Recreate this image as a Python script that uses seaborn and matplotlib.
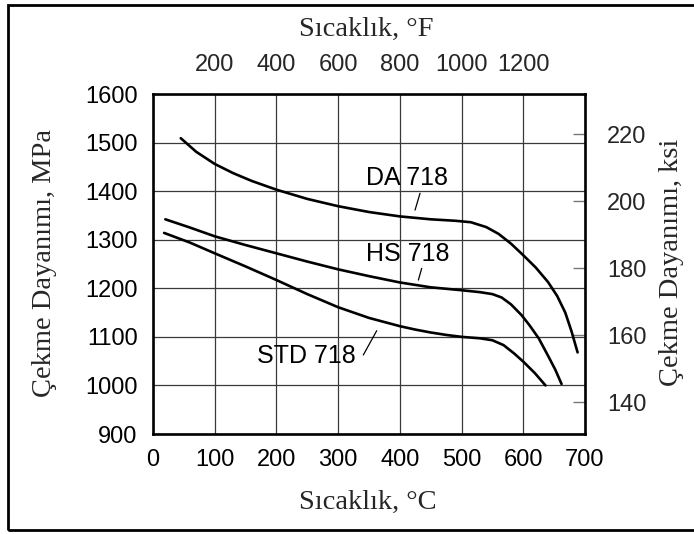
import numpy as np
import pandas as pd
import matplotlib
matplotlib.use("Agg")
import matplotlib.pyplot as plt
import matplotlib.patches as mpatches
import seaborn as sns

# ---- data ----
temp_da = [45, 70, 100, 130, 160, 200, 250, 300, 350, 400, 450, 490, 515, 540, 560, 580,
           600, 620, 640, 655, 668, 678, 688]
ts_da = [1509, 1481, 1456, 1437, 1421, 1403, 1384, 1369, 1357, 1348, 1342, 1339, 1336, 1326,
         1312, 1292, 1268, 1243, 1213, 1184, 1150, 1112, 1068]

temp_hs = [20, 60, 100, 150, 200, 250, 300, 350, 400, 450, 500, 530, 550, 565, 580, 597,
           610, 625, 641, 652, 662]
ts_hs = [1342, 1325, 1307, 1289, 1272, 1255, 1239, 1225, 1212, 1202, 1196, 1192, 1188, 1181,
         1167, 1145, 1124, 1097, 1059, 1032, 1003]

temp_std = [18, 60, 100, 150, 200, 250, 300, 350, 400, 425, 450, 475, 500, 530, 550, 568,
            585, 600, 619, 636]
ts_std = [1314, 1294, 1272, 1245, 1217, 1188, 1161, 1139, 1122, 1115, 1109, 1104, 1100, 1097,
          1093, 1083, 1066, 1049, 1025, 1000]

alloys = ["DA 718", "HS 718", "STD 718"]

x_ticks_c = [0, 100, 200, 300, 400, 500, 600, 700]
y_ticks_mpa = [900, 1000, 1100, 1200, 1300, 1400, 1500, 1600]
top_tick_pos_c = [100, 200, 300, 400, 500, 600]
top_tick_labels_f = ["200", "400", "600", "800", "1000", "1200"]
right_ticks_ksi = [140, 160, 180, 200, 220]
MPA_PER_KSI = 6.895

# label anchor points (data coords): text centre, leader start, leader end
label_pos = {
    "DA 718": ((411, 1427), (432.7, 1395.6), (424.6, 1361)),
    "HS 718": ((413, 1271), (435.4, 1241), (430, 1217)),
    "STD 718": ((248, 1061), (362.5, 1112.7), (340.8, 1062.7)),
}

df = pd.concat([
    pd.DataFrame({"temp": temp_da, "ts": ts_da, "alloy": alloys[0]}),
    pd.DataFrame({"temp": temp_hs, "ts": ts_hs, "alloy": alloys[1]}),
    pd.DataFrame({"temp": temp_std, "ts": ts_std, "alloy": alloys[2]}),
], ignore_index=True)

sns.set_theme(style="white")
plt.rcParams["font.family"] = ["Liberation Sans", "DejaVu Sans"]

W, H = 694, 534
fig = plt.figure(figsize=(W / 100, H / 100), dpi=100)
fig.patch.set_facecolor("white")
ax = fig.add_axes([153 / W, 1 - 434 / H, (585 - 153) / W, (434 - 94) / H])

sns.lineplot(data=df, x="temp", y="ts", hue="alloy", units="alloy", estimator=None,
             palette={a: "black" for a in alloys}, sort=False, legend=False,
             linewidth=1.9, solid_joinstyle="round", solid_capstyle="round", ax=ax)

ax.set_xlim(0, 700)
ax.set_ylim(900, 1600)
ax.set_xticks(x_ticks_c)
ax.set_yticks(y_ticks_mpa)
ax.set_xticklabels([str(v) for v in x_ticks_c])
ax.set_yticklabels([str(v) for v in y_ticks_mpa])
ax.tick_params(axis="both", which="both", length=0, labelsize=17, colors="black")
ax.tick_params(axis="x", pad=11)
ax.tick_params(axis="y", pad=11)
ax.grid(True, color="#3a3a3a", linewidth=0.9)
for s in ax.spines.values():
    s.set_color("black")
    s.set_linewidth(1.9)
ax.set_xlabel("")
ax.set_ylabel("")

# top Fahrenheit axis
top = ax.secondary_xaxis("top")
top.set_xticks(top_tick_pos_c)
top.set_xticklabels(top_tick_labels_f)
top.tick_params(length=0, labelsize=17, pad=13)
top.spines["top"].set_visible(False)

# right ksi axis
right = ax.secondary_yaxis("right", functions=(lambda m: m / MPA_PER_KSI, lambda k: k * MPA_PER_KSI))
right.set_yticks(right_ticks_ksi)
right.set_yticklabels([str(v) for v in right_ticks_ksi])
right.tick_params(direction="in", length=9, width=1.0, color="#777777", labelsize=17, pad=16)
right.spines["right"].set_visible(False)

# curve labels with leader lines
for name, (txt, p0, p1) in label_pos.items():
    ax.text(txt[0], txt[1], name, ha="center", va="center", fontsize=18, color="black")
    ax.plot([p0[0], p1[0]], [p0[1], p1[1]], color="black", linewidth=0.9)

serif = ["Liberation Serif", "DejaVu Serif"]
fig.text(366 / W, 1 - 29 / H, "Sıcaklık, °F", ha="center", va="center", fontsize=20.5, family=serif)
fig.text(368 / W, 1 - 502 / H, "Sıcaklık, °C", ha="center", va="center", fontsize=20.5, family=serif)
fig.text(45 / W, 1 - 263 / H, "Çekme Dayanımı, MPa", ha="center", va="center", rotation=90, fontsize=20.5, family=serif)
fig.text(672 / W, 1 - 262 / H, "Çekme Dayanımı, ksi", ha="center", va="center", rotation=90, fontsize=20.5, family=serif)

# outer frame
fig.patches.append(mpatches.Rectangle((8 / W, 4 / H), (700 - 8) / W, 525.5 / H,
                                      transform=fig.transFigure, fill=False,
                                      edgecolor="black", linewidth=2.0, clip_on=False))

fig.savefig("out.png", dpi=100, facecolor="white")
